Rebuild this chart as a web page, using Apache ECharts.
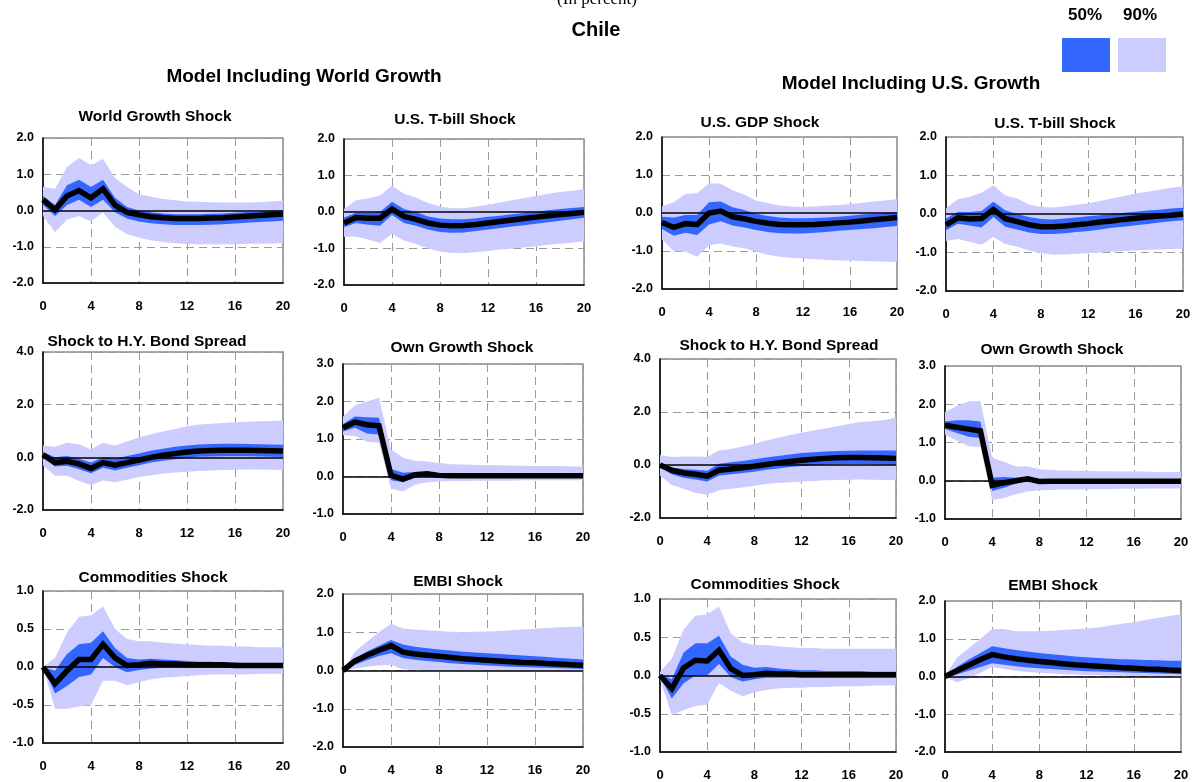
<!DOCTYPE html>
<html><head><meta charset="utf-8">
<script src="https://cdn.jsdelivr.net/npm/echarts@6/dist/echarts.min.js"></script>
<style>html,body{margin:0;padding:0;background:#fff}#c{width:1197px;height:782px}</style>
</head><body><div id="c"></div><script>
const horizons = ['0','1','2','3','4','5','6','7','8','9','10','11','12','13','14','15','16','17','18','19','20'];

// 1. World growth model: World Growth Shock
const wgMed  = [0.30,0.02,0.40,0.55,0.35,0.60,0.15,-0.05,-0.12,-0.17,-0.20,-0.22,-0.22,-0.22,-0.21,-0.20,-0.18,-0.16,-0.14,-0.12,-0.10];
const wgLo50 = [0.15,-0.15,0.15,0.30,0.10,0.30,-0.05,-0.22,-0.30,-0.35,-0.38,-0.40,-0.40,-0.40,-0.39,-0.38,-0.36,-0.34,-0.32,-0.30,-0.28];
const wgHi50 = [0.40,0.15,0.70,0.85,0.65,0.85,0.35,0.10,0.00,-0.05,-0.08,-0.10,-0.10,-0.10,-0.09,-0.08,-0.06,-0.04,-0.03,-0.01,0.00];
const wgLo90 = [-0.15,-0.60,-0.25,-0.15,-0.30,-0.05,-0.45,-0.65,-0.75,-0.82,-0.87,-0.90,-0.92,-0.93,-0.93,-0.93,-0.93,-0.92,-0.92,-0.91,-0.90];
const wgHi90 = [0.65,0.60,1.20,1.45,1.25,1.42,0.90,0.65,0.45,0.38,0.32,0.28,0.25,0.24,0.23,0.22,0.22,0.22,0.23,0.25,0.27];

// 2. World growth model: U.S. T-bill Shock
const tbAMed  = [-0.30,-0.15,-0.17,-0.17,0.08,-0.12,-0.20,-0.30,-0.36,-0.38,-0.37,-0.34,-0.30,-0.26,-0.22,-0.18,-0.14,-0.10,-0.07,-0.04,-0.01];
const tbALo50 = [-0.42,-0.30,-0.35,-0.38,-0.08,-0.30,-0.38,-0.48,-0.55,-0.57,-0.56,-0.52,-0.48,-0.44,-0.40,-0.36,-0.32,-0.28,-0.24,-0.20,-0.16];
const tbAHi50 = [-0.15,-0.02,-0.02,0.00,0.28,0.08,0.00,-0.12,-0.18,-0.20,-0.20,-0.17,-0.13,-0.10,-0.06,-0.03,0.01,0.05,0.08,0.11,0.14];
const tbALo90 = [-0.68,-0.68,-0.75,-0.85,-0.60,-0.78,-0.88,-1.00,-1.08,-1.12,-1.12,-1.10,-1.07,-1.03,-1.00,-0.97,-0.94,-0.90,-0.87,-0.84,-0.80];
const tbAHi90 = [0.08,0.32,0.37,0.45,0.72,0.50,0.40,0.25,0.15,0.10,0.10,0.15,0.20,0.26,0.32,0.38,0.44,0.50,0.55,0.58,0.62];

// 3. U.S. growth model: U.S. GDP Shock
const usMed  = [-0.25,-0.38,-0.28,-0.30,0.00,0.05,-0.10,-0.15,-0.22,-0.27,-0.30,-0.31,-0.31,-0.30,-0.28,-0.26,-0.24,-0.21,-0.18,-0.15,-0.12];
const usLo50 = [-0.42,-0.60,-0.52,-0.58,-0.30,-0.22,-0.33,-0.38,-0.45,-0.50,-0.53,-0.54,-0.54,-0.52,-0.50,-0.47,-0.45,-0.42,-0.40,-0.37,-0.34];
const usHi50 = [-0.10,-0.12,-0.05,-0.05,0.28,0.30,0.15,0.08,-0.02,-0.08,-0.12,-0.14,-0.14,-0.13,-0.12,-0.10,-0.07,-0.04,-0.02,0.00,0.02];
const usLo90 = [-0.70,-1.00,-1.02,-1.15,-0.85,-0.80,-0.88,-0.93,-1.02,-1.10,-1.15,-1.18,-1.20,-1.22,-1.23,-1.25,-1.25,-1.26,-1.27,-1.28,-1.29];
const usHi90 = [0.18,0.28,0.50,0.52,0.78,0.77,0.60,0.48,0.33,0.26,0.20,0.17,0.16,0.17,0.19,0.21,0.24,0.27,0.30,0.33,0.36];

// 4. U.S. growth model: U.S. T-bill Shock
const tbBMed  = [-0.28,-0.10,-0.13,-0.12,0.12,-0.12,-0.20,-0.28,-0.33,-0.33,-0.31,-0.28,-0.25,-0.21,-0.18,-0.14,-0.11,-0.08,-0.05,-0.03,0.00];
const tbBLo50 = [-0.42,-0.25,-0.30,-0.35,-0.08,-0.33,-0.40,-0.48,-0.52,-0.52,-0.50,-0.47,-0.44,-0.40,-0.36,-0.33,-0.29,-0.26,-0.22,-0.19,-0.16];
const tbBHi50 = [-0.12,0.05,0.05,0.08,0.32,0.10,0.00,-0.08,-0.13,-0.14,-0.12,-0.09,-0.06,-0.03,0.00,0.03,0.06,0.09,0.11,0.14,0.16];
const tbBLo90 = [-0.70,-0.65,-0.72,-0.80,-0.60,-0.78,-0.85,-0.95,-1.02,-1.05,-1.05,-1.03,-1.02,-1.00,-0.98,-0.96,-0.95,-0.93,-0.92,-0.91,-0.90];
const tbBHi90 = [0.15,0.38,0.45,0.55,0.75,0.48,0.40,0.25,0.18,0.17,0.20,0.24,0.28,0.34,0.40,0.47,0.53,0.58,0.63,0.68,0.72];

// 5. World growth model: Shock to H.Y. Bond Spread
const hyAMed  = [0.10,-0.20,-0.15,-0.25,-0.42,-0.20,-0.30,-0.20,-0.10,0.00,0.08,0.14,0.20,0.24,0.26,0.27,0.27,0.27,0.26,0.25,0.24];
const hyALo50 = [0.00,-0.35,-0.32,-0.45,-0.60,-0.40,-0.50,-0.40,-0.30,-0.20,-0.13,-0.07,-0.02,0.02,0.03,0.04,0.04,0.04,0.03,0.02,0.01];
const hyAHi50 = [0.20,0.00,0.05,-0.05,-0.20,0.00,-0.05,0.05,0.15,0.25,0.33,0.40,0.45,0.49,0.51,0.52,0.52,0.51,0.50,0.49,0.48];
const hyALo90 = [-0.30,-0.70,-0.70,-0.90,-1.05,-0.88,-0.95,-0.85,-0.75,-0.68,-0.62,-0.58,-0.55,-0.52,-0.50,-0.48,-0.47,-0.46,-0.46,-0.47,-0.48];
const hyAHi90 = [0.45,0.40,0.55,0.50,0.30,0.55,0.45,0.60,0.75,0.88,0.98,1.08,1.18,1.25,1.28,1.30,1.33,1.35,1.37,1.38,1.40];

// 6. World growth model: Own Growth Shock
const ogAMed  = [1.30,1.45,1.38,1.35,0.03,-0.07,0.05,0.07,0.03,0.02,0.02,0.02,0.02,0.02,0.02,0.02,0.02,0.02,0.02,0.02,0.02];
const ogALo50 = [1.20,1.30,1.15,1.12,-0.10,-0.15,-0.03,0.00,-0.02,-0.03,-0.03,-0.03,-0.03,-0.03,-0.03,-0.03,-0.03,-0.03,-0.03,-0.03,-0.03];
const ogAHi50 = [1.40,1.60,1.58,1.57,0.20,0.10,0.12,0.12,0.08,0.07,0.06,0.06,0.06,0.06,0.06,0.06,0.06,0.06,0.06,0.06,0.06];
const ogALo90 = [1.10,1.08,0.93,0.90,-0.32,-0.40,-0.22,-0.15,-0.13,-0.12,-0.12,-0.11,-0.11,-0.11,-0.11,-0.10,-0.10,-0.10,-0.10,-0.10,-0.10];
const ogAHi90 = [1.60,1.90,2.00,2.10,0.72,0.50,0.42,0.40,0.36,0.33,0.32,0.31,0.30,0.30,0.29,0.29,0.28,0.28,0.28,0.27,0.27];

// 7. U.S. growth model: Shock to H.Y. Bond Spread
const hyBMed  = [0.00,-0.20,-0.30,-0.35,-0.42,-0.20,-0.15,-0.10,-0.05,0.02,0.08,0.13,0.18,0.22,0.25,0.27,0.28,0.28,0.27,0.26,0.25];
const hyBLo50 = [-0.08,-0.35,-0.48,-0.55,-0.62,-0.40,-0.35,-0.30,-0.25,-0.18,-0.13,-0.08,-0.04,-0.01,0.02,0.03,0.04,0.04,0.03,0.02,0.01];
const hyBHi50 = [0.05,-0.10,-0.15,-0.18,-0.22,0.05,0.10,0.15,0.22,0.28,0.34,0.40,0.45,0.48,0.51,0.53,0.54,0.55,0.55,0.55,0.55];
const hyBLo90 = [-0.40,-0.75,-0.90,-1.05,-1.12,-0.95,-0.90,-0.85,-0.78,-0.72,-0.68,-0.65,-0.62,-0.60,-0.58,-0.57,-0.56,-0.55,-0.56,-0.57,-0.58];
const hyBHi90 = [0.38,0.30,0.32,0.32,0.30,0.55,0.60,0.70,0.80,0.92,1.03,1.13,1.22,1.30,1.38,1.46,1.55,1.62,1.65,1.70,1.78];

// 8. U.S. growth model: Own Growth Shock
const ogBMed  = [1.45,1.40,1.35,1.30,-0.12,-0.05,0.00,0.05,-0.02,-0.01,-0.01,-0.01,-0.01,-0.01,-0.01,-0.01,-0.01,-0.01,-0.01,-0.01,-0.01];
const ogBLo50 = [1.35,1.25,1.15,1.12,-0.27,-0.18,-0.08,0.00,-0.05,-0.05,-0.05,-0.05,-0.05,-0.05,-0.05,-0.05,-0.05,-0.05,-0.05,-0.05,-0.05];
const ogBHi50 = [1.55,1.58,1.58,1.55,0.08,0.10,0.08,0.07,0.03,0.02,0.02,0.02,0.02,0.02,0.02,0.02,0.02,0.02,0.02,0.02,0.02];
const ogBLo90 = [1.20,1.05,0.90,0.88,-0.50,-0.45,-0.35,-0.28,-0.25,-0.24,-0.23,-0.23,-0.22,-0.22,-0.22,-0.21,-0.21,-0.21,-0.20,-0.20,-0.20];
const ogBHi90 = [1.80,1.95,2.08,2.08,0.60,0.50,0.37,0.37,0.30,0.28,0.27,0.26,0.26,0.25,0.25,0.24,0.24,0.24,0.23,0.23,0.23];

// 9. World growth model: Commodities Shock
const cmAMed  = [0.00,-0.22,-0.05,0.10,0.10,0.30,0.12,0.02,0.03,0.05,0.04,0.04,0.03,0.03,0.03,0.03,0.02,0.02,0.02,0.02,0.02];
const cmALo50 = [0.00,-0.35,-0.25,-0.13,-0.10,0.12,0.00,-0.07,-0.04,-0.02,-0.01,-0.01,-0.01,-0.01,-0.01,-0.01,-0.01,-0.01,-0.01,-0.01,-0.01];
const cmAHi50 = [0.00,-0.05,0.17,0.30,0.32,0.47,0.25,0.12,0.10,0.11,0.10,0.09,0.08,0.07,0.07,0.06,0.06,0.05,0.05,0.05,0.05];
const cmALo90 = [0.00,-0.55,-0.55,-0.52,-0.50,-0.18,-0.18,-0.24,-0.20,-0.16,-0.14,-0.13,-0.12,-0.11,-0.10,-0.10,-0.10,-0.10,-0.09,-0.09,-0.09];
const cmAHi90 = [0.00,0.12,0.45,0.66,0.68,0.80,0.50,0.37,0.34,0.34,0.32,0.31,0.30,0.29,0.28,0.28,0.27,0.27,0.26,0.26,0.26];

// 10. World growth model: EMBI Shock
const emAMed  = [0.00,0.25,0.40,0.53,0.65,0.48,0.43,0.40,0.37,0.34,0.31,0.29,0.27,0.25,0.23,0.21,0.20,0.18,0.17,0.15,0.14];
const emALo50 = [0.00,0.15,0.27,0.38,0.45,0.33,0.28,0.25,0.22,0.19,0.17,0.15,0.13,0.12,0.10,0.09,0.08,0.07,0.06,0.05,0.04];
const emAHi50 = [0.00,0.30,0.50,0.65,0.80,0.68,0.62,0.58,0.55,0.52,0.49,0.47,0.45,0.43,0.41,0.39,0.37,0.35,0.33,0.31,0.29];
const emALo90 = [0.00,0.05,0.10,0.13,0.15,0.03,0.01,0.00,-0.01,-0.01,-0.02,-0.02,-0.02,-0.02,-0.02,-0.02,-0.02,-0.02,-0.02,-0.02,-0.02];
const emAHi90 = [0.00,0.50,0.75,1.00,1.22,1.10,1.07,1.05,1.03,1.01,1.00,1.01,1.02,1.03,1.05,1.07,1.09,1.11,1.13,1.14,1.15];

// 11. U.S. growth model: Commodities Shock
const cmBMed  = [0.00,-0.17,0.10,0.20,0.19,0.33,0.09,0.00,0.01,0.03,0.02,0.02,0.01,0.01,0.01,0.01,0.01,0.01,0.01,0.01,0.01];
const cmBLo50 = [-0.02,-0.30,-0.10,0.00,0.00,0.15,-0.02,-0.08,-0.05,-0.03,-0.03,-0.03,-0.03,-0.03,-0.03,-0.03,-0.03,-0.03,-0.03,-0.03,-0.03];
const cmBHi50 = [0.02,-0.05,0.30,0.42,0.42,0.52,0.25,0.14,0.10,0.11,0.09,0.08,0.07,0.07,0.06,0.06,0.06,0.06,0.05,0.05,0.05];
const cmBLo90 = [-0.05,-0.52,-0.45,-0.40,-0.38,-0.10,-0.20,-0.27,-0.22,-0.19,-0.17,-0.16,-0.16,-0.15,-0.15,-0.14,-0.14,-0.14,-0.13,-0.13,-0.13];
const cmBHi90 = [0.05,0.22,0.60,0.78,0.80,0.90,0.55,0.43,0.40,0.40,0.38,0.37,0.36,0.36,0.35,0.35,0.35,0.35,0.35,0.35,0.35];

// 12. U.S. growth model: EMBI Shock
const emBMed  = [0.00,0.15,0.30,0.45,0.58,0.52,0.47,0.43,0.40,0.37,0.34,0.31,0.29,0.27,0.25,0.23,0.22,0.20,0.19,0.17,0.16];
const emBLo50 = [0.00,0.05,0.15,0.25,0.35,0.31,0.27,0.24,0.22,0.20,0.18,0.16,0.14,0.13,0.12,0.11,0.10,0.09,0.08,0.07,0.06];
const emBHi50 = [0.00,0.25,0.45,0.62,0.80,0.75,0.70,0.66,0.62,0.59,0.56,0.53,0.51,0.49,0.47,0.46,0.45,0.44,0.43,0.42,0.42];
const emBLo90 = [0.00,-0.15,-0.05,0.10,0.25,0.20,0.15,0.12,0.10,0.08,0.06,0.05,0.04,0.03,0.02,0.02,0.01,0.01,0.00,0.00,0.00];
const emBHi90 = [0.00,0.50,0.75,1.00,1.26,1.26,1.20,1.20,1.20,1.21,1.23,1.25,1.27,1.30,1.35,1.40,1.44,1.50,1.55,1.60,1.65];

const panelTitles = ['World Growth Shock','U.S. T-bill Shock','U.S. GDP Shock','U.S. T-bill Shock',
  'Shock to H.Y. Bond Spread','Own Growth Shock','Shock to H.Y. Bond Spread','Own Growth Shock',
  'Commodities Shock','EMBI Shock','Commodities Shock','EMBI Shock'];
const yRanges = [[-2,2,1],[-2,2,1],[-2,2,1],[-2,2,1],[-2,4,2],[-1,3,1],[-2,4,2],[-1,3,1],[-1,1,0.5],[-2,2,1],[-1,1,0.5],[-2,2,1]];
const panelData = [
  [wgMed,wgLo50,wgHi50,wgLo90,wgHi90],[tbAMed,tbALo50,tbAHi50,tbALo90,tbAHi90],
  [usMed,usLo50,usHi50,usLo90,usHi90],[tbBMed,tbBLo50,tbBHi50,tbBLo90,tbBHi90],
  [hyAMed,hyALo50,hyAHi50,hyALo90,hyAHi90],[ogAMed,ogALo50,ogAHi50,ogALo90,ogAHi90],
  [hyBMed,hyBLo50,hyBHi50,hyBLo90,hyBHi90],[ogBMed,ogBLo50,ogBHi50,ogBLo90,ogBHi90],
  [cmAMed,cmALo50,cmAHi50,cmALo90,cmAHi90],[emAMed,emALo50,emAHi50,emALo90,emAHi90],
  [cmBMed,cmBLo50,cmBHi50,cmBLo90,cmBHi90],[emBMed,emBLo50,emBHi50,emBLo90,emBHi90]
];

// layout: grid [left, top, width, height], title centre [x, y]
const gridBoxes = [[43,138,240,145],[344,139,240,146],[662,137,235,152],[946,137,237,154],
  [43,352,240,158],[343,364,240,150],[660,359,236,159],[945,366,236,153],
  [43,591,240,152],[343,594,240,153],[660,599,236,153],[945,601,236,152]];
const titlePos = [[155,117],[455,120],[760,123],[1055,124],[147,342],[462,348],[779,346],[1052,350],
  [153,578],[458,582],[765,585],[1053,586]];

const FONT = '"Liberation Sans", Arial, sans-serif';
const C90 = '#ccccff', C50 = '#3366ff';

const grids = [], xAxes = [], yAxes = [], series = [], graphics = [];
panelData.forEach((d, i) => {
  const [l,t,w,h] = gridBoxes[i];
  const [ymin,ymax,yint] = yRanges[i];
  grids.push({left:l, top:t, width:w, height:h, show:true, borderColor:'#8c8c8c', borderWidth:1.5});
  xAxes.push({gridIndex:i, type:'category', data:horizons, boundaryGap:false,
    axisLine:{show:true, onZero:false, lineStyle:{color:'#000', width:1.5}},
    axisTick:{show:false},
    axisLabel:{interval:3, color:'#000', fontWeight:'bold', fontSize:13, fontFamily:FONT, margin:17},
    splitLine:{show:true, interval:3, lineStyle:{color:'#9a9a9a', width:1, type:[8,5]}}});
  yAxes.push({gridIndex:i, type:'value', min:ymin, max:ymax, interval:yint,
    axisLine:{show:true, lineStyle:{color:'#000', width:1.5}},
    axisTick:{show:false},
    axisLabel:{color:'#000', fontWeight:'bold', fontSize:12.5, fontFamily:FONT, margin:9, formatter:v=>v.toFixed(1)},
    splitLine:{show:true, lineStyle:{color:'#9a9a9a', width:1, type:[8,5]}}});
  const [med, lo50, hi50, lo90, hi90] = d;
  const base = {type:'line', xAxisIndex:i, yAxisIndex:i, symbol:'none', silent:true, stackStrategy:'all'};
  series.push(Object.assign({}, base, {stack:'b90_'+i, data:lo90, lineStyle:{width:0, opacity:0}}));
  series.push(Object.assign({}, base, {stack:'b90_'+i, data:hi90.map((v,j)=>+(v-lo90[j]).toFixed(4)),
    lineStyle:{width:0, opacity:0}, areaStyle:{color:C90, opacity:1}}));
  series.push(Object.assign({}, base, {stack:'b50_'+i, data:lo50, lineStyle:{width:0, opacity:0}}));
  series.push(Object.assign({}, base, {stack:'b50_'+i, data:hi50.map((v,j)=>+(v-lo50[j]).toFixed(4)),
    lineStyle:{width:0, opacity:0}, areaStyle:{color:C50, opacity:1}}));
  series.push({type:'line', xAxisIndex:i, yAxisIndex:i, symbol:'none', silent:true, data:med,
    lineStyle:{color:'#000', width:5.5, join:'miter'},
    markLine:{silent:true, symbol:'none', label:{show:false}, animation:false,
      lineStyle:{color:'#000', width:1.5, type:'solid'}, data:[{yAxis:0}]}});
  graphics.push({type:'text', x:titlePos[i][0], y:titlePos[i][1],
    style:{text:panelTitles[i], font:'bold 15.5px '+FONT, fill:'#000', textAlign:'center', textVerticalAlign:'middle'}});
});

graphics.push({type:'text', x:597, y:0, style:{text:'(In percent)', font:'17px "Liberation Serif", "Times New Roman", serif', fill:'#000', textAlign:'center', textVerticalAlign:'middle'}});
graphics.push({type:'text', x:596, y:30, style:{text:'Chile', font:'bold 20px '+FONT, fill:'#000', textAlign:'center', textVerticalAlign:'middle'}});
graphics.push({type:'text', x:304, y:77, style:{text:'Model Including World Growth', font:'bold 19px '+FONT, fill:'#000', textAlign:'center', textVerticalAlign:'middle'}});
graphics.push({type:'text', x:911, y:84, style:{text:'Model Including U.S. Growth', font:'bold 19px '+FONT, fill:'#000', textAlign:'center', textVerticalAlign:'middle'}});
graphics.push({type:'text', x:1085, y:15, style:{text:'50%', font:'bold 17px '+FONT, fill:'#000', textAlign:'center', textVerticalAlign:'middle'}});
graphics.push({type:'text', x:1140, y:15, style:{text:'90%', font:'bold 17px '+FONT, fill:'#000', textAlign:'center', textVerticalAlign:'middle'}});
graphics.push({type:'rect', shape:{x:1062, y:38, width:48, height:34}, style:{fill:C50}});
graphics.push({type:'rect', shape:{x:1118, y:38, width:48, height:34}, style:{fill:C90}});

const chart = echarts.init(document.getElementById('c'), null, {renderer:'canvas'});
chart.setOption({animation:false, backgroundColor:'#fff', grid:grids, xAxis:xAxes, yAxis:yAxes, series:series, graphic:graphics});
</script></body></html>
